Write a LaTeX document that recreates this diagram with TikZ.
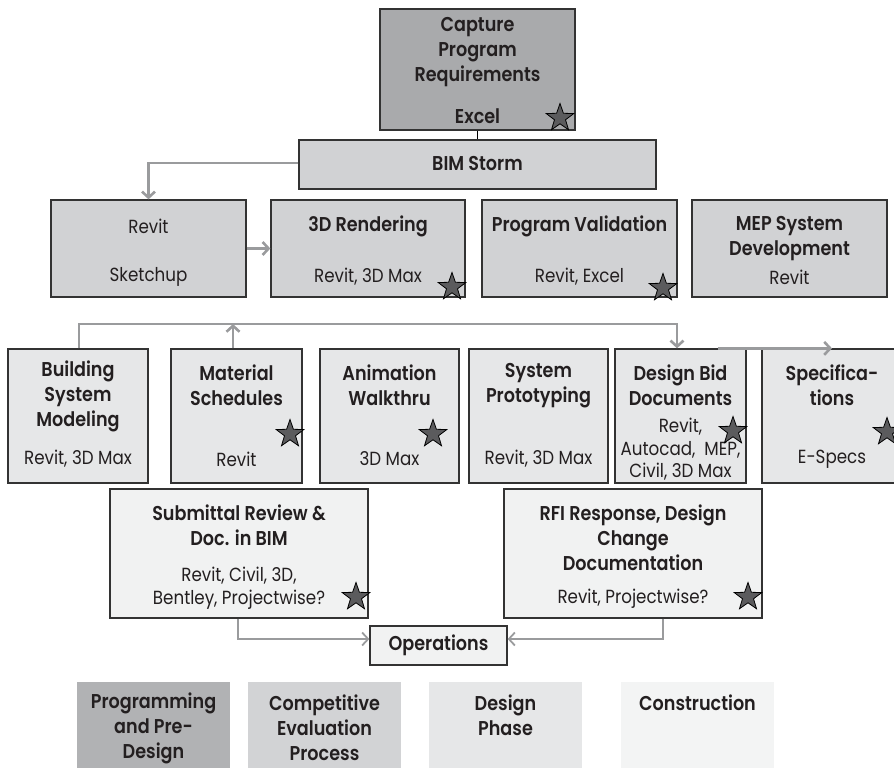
\documentclass[tikz,border=0pt]{standalone}
\usepackage{fontspec}
\setmainfont{Poppins}[FakeStretch=0.88, BoldFont={Poppins SemiBold}]
\usetikzlibrary{shapes.geometric,arrows.meta}
\definecolor{dk}{HTML}{A9AAAC}
\definecolor{md}{HTML}{D1D2D4}
\definecolor{lt}{HTML}{E6E7E8}
\definecolor{vl}{HTML}{F1F2F2}
\definecolor{lgA}{HTML}{B1B2B4}
\definecolor{lgB}{HTML}{D2D3D5}
\definecolor{lgC}{HTML}{E6E7E8}
\definecolor{lgD}{HTML}{F3F4F4}
\definecolor{ln}{HTML}{9A9B9D}
\definecolor{edge}{HTML}{333333}
\definecolor{starfill}{HTML}{5B5B5D}
\definecolor{txt}{HTML}{231F20}
\tikzset{
 box/.style={draw=edge, line width=1.3pt, inner sep=0pt},
 ttl/.style={font=\fontsize{20}{25}\selectfont\bfseries, text=txt, align=center, inner sep=0pt},
 tool/.style={font=\fontsize{19}{22.5}\selectfont, text=txt, align=center, inner sep=0pt},
 conn/.style={draw=ln, line width=2.6pt, -{Straight Barb[length=6pt,width=13pt]}},
 connthin/.style={draw=ln, line width=1.8pt, -{Straight Barb[length=6pt,width=13pt]}},
 starmark/.style={star, star points=5, star point ratio=2.5, minimum size=29pt, fill=starfill, draw=black, line width=0.8pt, inner sep=0pt},
 legend/.style={inner sep=0pt, minimum width=153pt, minimum height=86pt}
}
\begin{document}
\begin{tikzpicture}[x=1pt,y=-1pt]
\useasboundingbox (0,0) rectangle (894,768);
\clip (0,0) rectangle (894,768);
% ---------- boxes ----------
\node[box, fill=dk, minimum width=195pt, minimum height=121pt] (cap) at (477.5,69.5) {};
\node[box, fill=md, minimum width=357pt, minimum height=49pt] (bim) at (477.5,164.5) {};
\node[box, fill=md, minimum width=195pt, minimum height=97pt] (revit) at (148.5,248.5) {};
\node[box, fill=md, minimum width=194pt, minimum height=97pt] (r3d) at (368,248.5) {};
\node[box, fill=md, minimum width=195pt, minimum height=97pt] (pval) at (579.5,248.5) {};
\node[box, fill=md, minimum width=195pt, minimum height=97pt] (mep) at (789.5,248.5) {};
\node[box, fill=lt, minimum width=140pt, minimum height=134pt] (build) at (78,416) {};
\node[box, fill=lt, minimum width=131pt, minimum height=134pt] (mat) at (236.5,416) {};
\node[box, fill=lt, minimum width=139pt, minimum height=134pt] (anim) at (389.5,416) {};
\node[box, fill=lt, minimum width=139pt, minimum height=134pt] (sysp) at (538.5,416) {};
\node[box, fill=lt, minimum width=131pt, minimum height=134pt] (dbid) at (680.5,416) {};
\node[box, fill=lt, minimum width=140pt, minimum height=134pt] (spec) at (832,416) {};
\node[box, fill=vl, minimum width=258pt, minimum height=129pt] (sub) at (239,553.5) {};
\node[box, fill=vl, minimum width=258pt, minimum height=129pt] (rfi) at (633,553.5) {};
\node[box, fill=vl, minimum width=137pt, minimum height=39pt] (ops) at (438.5,645.5) {};
% ---------- legend ----------
\node[legend, fill=lgA] (lgprog) at (153.5,725) {};
\node[legend, fill=lgB] (lgcomp) at (324.5,725) {};
\node[legend, fill=lgC] (lgdes) at (505.5,725) {};
\node[legend, fill=lgD] (lgcon) at (697.5,725) {};
% ---------- texts ----------
\node[ttl] (capT) at (477.5,52) {Capture\\Program\\Requirements};
\node[ttl] (capS) at (477.5,116) {Excel};
\node[ttl] (bimT) at (477.5,164) {BIM Storm};
\node[tool] (revT) at (148.5,226) {Revit};
\node[tool] (revS) at (148.5,277) {Sketchup};
\node[ttl] (r3dT) at (368,226) {3D Rendering};
\node[tool] (r3dS) at (368,277) {Revit, 3D Max};
\node[ttl] (pvalT) at (579.5,226) {Program Validation};
\node[tool] (pvalS) at (579.5,277) {Revit, Excel};
\node[ttl] (mepT) at (789.5,238.5) {MEP System\\Development};
\node[tool] (mepS) at (789.5,277) {Revit};
\node[ttl] (buildT) at (78,396.5) {Building\\System\\Modeling};
\node[tool] (buildS) at (78,459) {Revit, 3D Max};
\node[ttl] (matT) at (236.5,385.5) {Material\\Schedules};
\node[tool] (matS) at (236.5,459) {Revit};
\node[ttl] (animT) at (389.5,385.5) {Animation\\Walkthru};
\node[tool] (animS) at (389.5,459) {3D Max};
\node[ttl] (syspT) at (538.5,385.5) {System\\Prototyping};
\node[tool] (syspS) at (538.5,459) {Revit, 3D Max};
\node[ttl] (dbidT) at (680.5,385.5) {Design Bid\\Documents};
\node[tool] (dbidS) at (680.5,449.5) {Revit,\\Autocad,~~MEP,\\Civil, 3D Max};
\node[ttl] (specT) at (832,385.5) {Specifica-\\tions};
\node[tool] (specS) at (832,459) {E-Specs};
\node[ttl] (subT) at (239,525.5) {Submittal Review \&\\Doc. in BIM};
\node[tool] (subS) at (239,588) {Revit, Civil, 3D,\\Bentley, Projectwise?};
\node[ttl] (rfiT) at (633,537.5) {RFI Response, Design\\Change\\Documentation};
\node[tool] (rfiS) at (633,599) {Revit, Projectwise?};
\node[ttl] (opsT) at (438.5,645.5) {Operations};
\node[ttl] (lgprogT) at (153.5,728) {Programming\\and Pre-\\Design};
\node[ttl] (lgcompT) at (324.5,728) {Competitive\\Evaluation\\Process};
\node[ttl] (lgdesT) at (505.5,715.5) {Design\\Phase};
\node[ttl] (lgconT) at (697.5,703) {Construction};
% ---------- stars ----------
\node[starmark] (s1) at (560,118) {};
\node[starmark] (s2) at (452,287) {};
\node[starmark] (s3) at (663,288) {};
\node[starmark] (s4) at (290,434) {};
\node[starmark] (s5) at (433,434) {};
\node[starmark] (s6) at (733,431) {};
\node[starmark] (s7) at (887,432) {};
\node[starmark] (s8) at (356,597) {};
\node[starmark] (s9) at (748,597) {};
% ---------- connectors ----------
\draw[draw=black, line width=1.3pt] (cap.south) -- (bim.north);
\draw[conn] ([yshift=1.5pt]bim.west) -| (revit.north);
\draw[conn] (revit.east) -- (r3d.west);
\coordinate (busL) at (79,324);
\coordinate (busR) at (677,324);
\draw[conn] (build.north -| busL) -- (busL) -- (busR) -- (busR |- dbid.north);
\draw[conn] ([xshift=-3.5pt]mat.north) -- ([xshift=-3.5pt]mat.north |- busL);
\draw[conn] ([xshift=-29pt]dbid.north east) -- (spec.north);
\draw[connthin] ([xshift=-1pt]sub.south) |- ([yshift=6.5pt]ops.west);
\draw[connthin] ([xshift=30pt]rfi.south) |- ([yshift=6.5pt]ops.east);
\end{tikzpicture}
\end{document}
